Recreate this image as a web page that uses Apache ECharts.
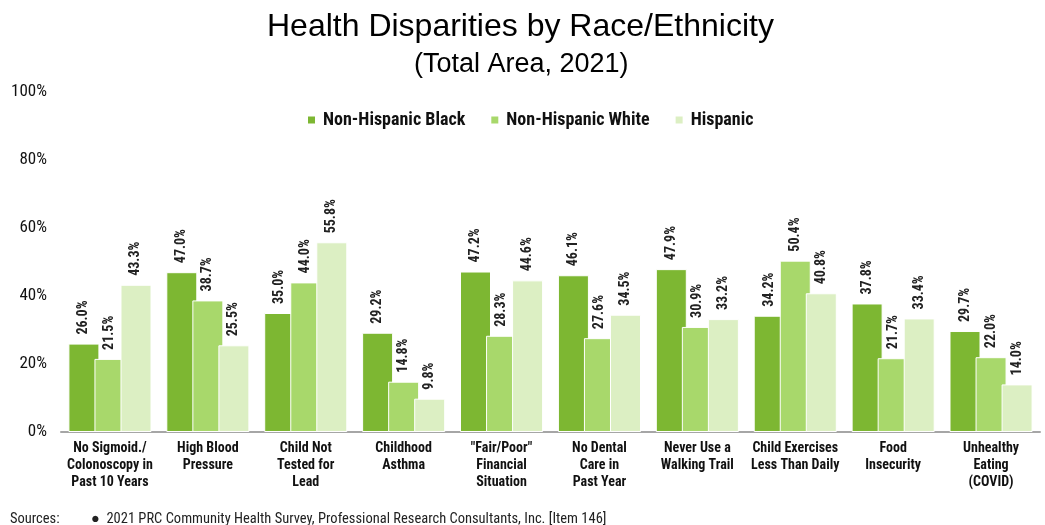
<!DOCTYPE html>
<html><head><meta charset="utf-8">
<script src="https://cdn.jsdelivr.net/npm/echarts@6/dist/echarts.min.js"></script>
<style>html,body{margin:0;padding:0;background:#fff}#c{width:1045px;height:525px}</style>
</head><body><div id="c"></div>
<script>
const categories = ["No Sigmoid./\nColonoscopy in\nPast 10 Years","High Blood\nPressure","Child Not\nTested for\nLead","Childhood\nAsthma","\"Fair/Poor\"\nFinancial\nSituation","No Dental\nCare in\nPast Year","Never Use a\nWalking Trail","Child Exercises\nLess Than Daily","Food\nInsecurity","Unhealthy\nEating\n(COVID)"];
const seriesNames = ["Non-Hispanic Black","Non-Hispanic White","Hispanic"];
const black = [26.0,47.0,35.0,29.2,47.2,46.1,47.9,34.2,37.8,29.7];
const white = [21.5,38.7,44.0,14.8,28.3,27.6,30.9,50.4,21.7,22.0];
const hispanic = [43.3,25.5,55.8,9.8,44.6,34.5,33.2,40.8,33.4,14.0];
const yTicks = [0,20,40,60,80,100];
const colors = ["#7db732","#a8d86b","#dcefc3"];
const narrow = "'Roboto Condensed','Liberation Sans',Arial,sans-serif";
const arial = "'Liberation Sans',Arial,sans-serif";

const chart = echarts.init(document.getElementById('c'));
const mk = (name, data, color) => ({
  name, type:'bar', data, barWidth:31, barGap:'-16%',
  itemStyle:{color, borderColor:'#fff', borderWidth:1},
  label:{show:true, position:'top', rotate:90, align:'left', verticalAlign:'middle', distance:9,
    formatter:p=>p.value.toFixed(1)+'%', fontFamily:narrow, fontSize:14, fontWeight:'bold', color:'#222'}
});
chart.setOption({
  animation:false,
  title:[{text:'Health Disparities by Race/Ethnicity', left:262, top:6,
    textStyle:{fontFamily:arial, fontSize:32, fontWeight:'normal', color:'#000'}},
   {text:'(Total Area, 2021)', left:409, top:46,
    textStyle:{fontFamily:arial, fontSize:27, fontWeight:'normal', color:'#000'}},
   {text:'Sources:', left:5, top:507, textStyle:{fontFamily:narrow, fontSize:14.5, fontWeight:'normal', color:'#222'}},
   {text:'\u25CF  2021 PRC Community Health Survey, Professional Research Consultants, Inc. [Item 146]', left:86, top:507, textStyle:{fontFamily:narrow, fontSize:14.5, fontWeight:'normal', color:'#222'}}
  ],
  legend:{data:seriesNames, top:106, left:301, itemWidth:9, itemHeight:9, itemGap:24, icon:'rect',
    textStyle:{fontFamily:narrow, fontSize:18, fontWeight:'bold', color:'#111', padding:[0,0,0,2]}},
  grid:{left:61, right:5, top:92, bottom:93, containLabel:false},
  xAxis:{type:'category', data:categories,
    axisLine:{lineStyle:{color:'#a6a6a6', width:2}}, axisTick:{show:false},
    axisLabel:{interval:0, margin:8, fontFamily:narrow, fontSize:14, fontWeight:'bold', color:'#111', lineHeight:17}},
  yAxis:{type:'value', min:0, max:100, interval:20,
    axisLine:{show:false}, axisTick:{show:false}, splitLine:{show:false},
    axisLabel:{formatter:v=>yTicks.includes(v)?v+'%':'', margin:14, fontFamily:narrow, fontSize:17, color:'#111'}},
  series:[mk(seriesNames[0],black,colors[0]), mk(seriesNames[1],white,colors[1]), mk(seriesNames[2],hispanic,colors[2])]
});
</script></body></html>
